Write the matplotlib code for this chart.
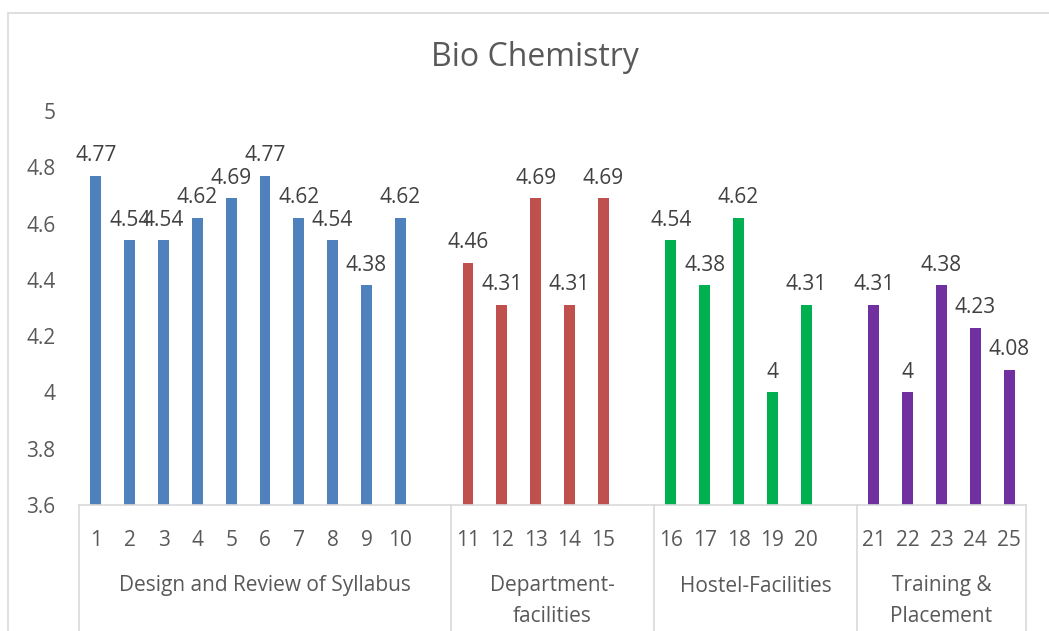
import matplotlib
matplotlib.use("Agg")
import matplotlib.pyplot as plt
from matplotlib.patches import Rectangle
from matplotlib.lines import Line2D
import numpy as np

plt.rcParams['font.family'] = ['Open Sans', 'DejaVu Sans']

# chart values
groups = ["Design and Review of Syllabus", "Department-\nfacilities",
          "Hostel-Facilities", "Training &\nPlacement"]
colors = ["#4F81BD", "#C0504D", "#00B050", "#7030A0"]
items = [list(range(1, 11)), list(range(11, 16)), list(range(16, 21)), list(range(21, 26))]
scores = [
    [4.77, 4.54, 4.54, 4.62, 4.69, 4.77, 4.62, 4.54, 4.38, 4.62],
    [4.46, 4.31, 4.69, 4.31, 4.69],
    [4.54, 4.38, 4.62, 4.00, 4.31],
    [4.31, 4.00, 4.38, 4.23, 4.08],
]

fig = plt.figure(figsize=(10.49, 6.31), dpi=100)
ax = fig.add_axes([79 / 1049, 1 - 505 / 631, (1026 - 79) / 1049, (505 - 111) / 631])

# chart border
fig.patches.append(Rectangle((8 / 1049, -0.01), 1.05, 1 - 13 / 631 + 0.01,
                             transform=fig.transFigure, fill=False,
                             edgecolor="#D9D9D9", linewidth=1.2))

label_col = "#404040"
tick_col = "#595959"
pos = 0
bounds = [0]
tick_pos = []
tick_lab = []
for g, (nums, vals, c) in enumerate(zip(items, scores, colors)):
    xs = np.arange(pos, pos + len(nums)) + 0.5
    ax.bar(xs, np.array(vals) - 3.6, bottom=3.6, width=0.32, color=c)
    for x, v in zip(xs, vals):
        ax.annotate(f"{v:g}", (x, v), xytext=(0, 7), textcoords="offset points",
                    ha="center", va="bottom", fontsize=15, color=label_col)
    tick_pos += list(xs)
    tick_lab += [str(n) for n in nums]
    pos += len(nums) + (1 if g < len(items) - 1 else 0)
    bounds.append(pos)

ax.set_xlim(0, pos)
ax.set_ylim(3.6, 5)
ax.set_yticks(np.arange(3.6, 5.01, 0.2))
ax.set_yticklabels(["3.6", "3.8", "4", "4.2", "4.4", "4.6", "4.8", "5"])
ax.set_xticks(tick_pos)
ax.set_xticklabels(tick_lab)
ax.tick_params(axis="both", length=0, labelsize=15, labelcolor=tick_col)
ax.tick_params(axis="y", pad=17)
ax.tick_params(axis="x", pad=18)
for s in ["top", "right", "left"]:
    ax.spines[s].set_visible(False)
ax.spines["bottom"].set_color("#D9D9D9")
ax.spines["bottom"].set_linewidth(1.2)

# group separators and group labels below the axis
trans = ax.get_xaxis_transform()
for b in bounds:
    ax.add_line(Line2D([b, b], [0, -0.35], transform=trans, color="#D9D9D9",
                       linewidth=1.2, clip_on=False))
for g, name in enumerate(groups):
    mid = (bounds[g] + bounds[g + 1]) / 2
    for i, line in enumerate(name.split("\n")):
        ax.text(mid, -(81 + 30 * i) / 394, line, transform=trans, ha="center",
                va="center", fontsize=15, color=tick_col)

fig.text(535 / 1049, 1 - 57 / 631, "Bio Chemistry", ha="center", va="center",
         fontsize=23, color=tick_col)

fig.savefig("out.png", dpi=100)
